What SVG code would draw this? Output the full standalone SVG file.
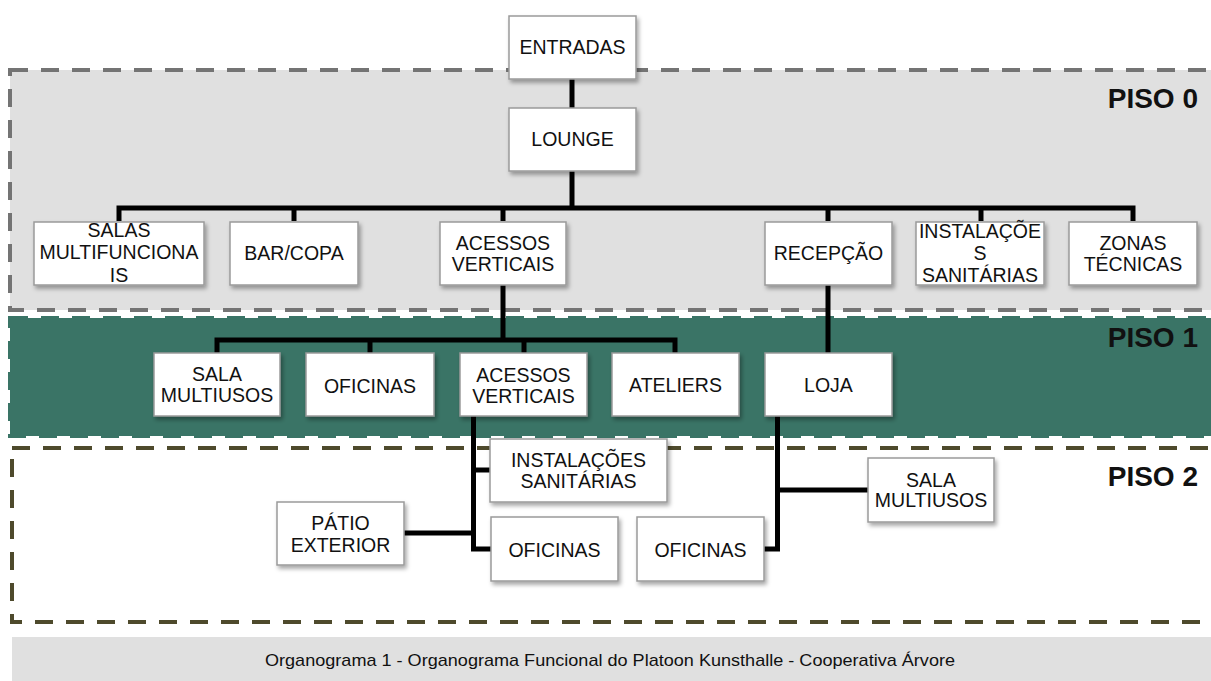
<svg xmlns="http://www.w3.org/2000/svg" width="1211" height="681" viewBox="0 0 1211 681">
<defs>
<filter id="sh" x="-10%" y="-10%" width="130%" height="140%">
<feDropShadow dx="2" dy="3" stdDeviation="2" flood-color="#000" flood-opacity="0.35"/>
</filter>
<style>
.box{fill:#fff;stroke:#9a9a9a;stroke-width:1.5;filter:url(#sh)}
.t{font-family:"Liberation Sans",Arial,sans-serif;font-size:19.5px;fill:#111;text-anchor:middle}
.lbl{font-family:"Liberation Sans",Arial,sans-serif;font-size:28px;font-weight:bold;fill:#111;text-anchor:end}
.c{fill:none;stroke:#000;stroke-width:5;stroke-linejoin:miter;stroke-linecap:butt}
.zone{stroke-width:4;stroke-dasharray:18 13}
</style>
</defs>
<rect width="1211" height="681" fill="#fff"/>
<g id="piso0">
<rect class="zone" x="10" y="70" width="1220" height="240" fill="#e0e0e0" stroke="#747474"/>
<text class="lbl" x="1198" y="108">PISO 0</text>
</g>
<g id="piso1">
<rect class="zone" x="10" y="318" width="1220" height="118" fill="#3a7466" stroke="#3a7466"/>
<text class="lbl" x="1198" y="347">PISO 1</text>
</g>
<g id="piso2">
<rect class="zone" x="12" y="448" width="1220" height="174" fill="none" stroke="#4e4a2c"/>
<text class="lbl" x="1198" y="486">PISO 2</text>
</g>
<g id="connectors">
<path class="c" d="M572 79V108"/>
<path class="c" d="M572 171V208"/>
<path class="c" d="M119 221V208H1133V221"/>
<path class="c" d="M294 208V221M503 208V221M828 208V221M981 208V221"/>
<path class="c" d="M503 285V340"/>
<path class="c" d="M217 353V340H675V353"/>
<path class="c" d="M370 340V353M524 340V353"/>
<path class="c" d="M828 285V353"/>
<path class="c" d="M473.5 416V549H491"/>
<path class="c" d="M473.5 470H490"/>
<path class="c" d="M403 533H473.5"/>
<path class="c" d="M777.5 416V549H764"/>
<path class="c" d="M777.5 490H868"/>
</g>
<g id="entradas"><rect class="box" x="509" y="16" width="127" height="63"/><text class="t" x="572.5" y="54">ENTRADAS</text></g>
<g id="lounge"><rect class="box" x="509" y="108" width="127" height="63"/><text class="t" x="572.5" y="146">LOUNGE</text></g>
<g id="salas-multifuncionais"><rect class="box" x="34" y="222" width="170" height="63"/><text class="t" x="119" y="237">SALAS</text><text class="t" x="119" y="259">MULTIFUNCIONA</text><text class="t" x="119" y="282">IS</text></g>
<g id="bar-copa"><rect class="box" x="230" y="222" width="128" height="63"/><text class="t" x="294" y="260">BAR/COPA</text></g>
<g id="acessos0"><rect class="box" x="440" y="222" width="126" height="63"/><text class="t" x="503" y="250">ACESSOS</text><text class="t" x="503" y="271">VERTICAIS</text></g>
<g id="recepcao"><rect class="box" x="765" y="222" width="127" height="63"/><text class="t" x="828.5" y="260">RECEPÇÃO</text></g>
<g id="instalacoes0"><rect class="box" x="916" y="222" width="128" height="63"/><text class="t" x="980" y="238">INSTALAÇÕE</text><text class="t" x="980" y="260">S</text><text class="t" x="980" y="282">SANITÁRIAS</text></g>
<g id="zonas-tecnicas"><rect class="box" x="1069" y="222" width="128" height="63"/><text class="t" x="1133" y="250">ZONAS</text><text class="t" x="1133" y="271">TÉCNICAS</text></g>
<g id="sala-multiusos1"><rect class="box" x="154" y="353" width="126" height="63"/><text class="t" x="217" y="381">SALA</text><text class="t" x="217" y="402">MULTIUSOS</text></g>
<g id="oficinas1"><rect class="box" x="306" y="353" width="128" height="63"/><text class="t" x="370" y="393">OFICINAS</text></g>
<g id="acessos1"><rect class="box" x="460" y="353" width="127" height="63"/><text class="t" x="523.5" y="382">ACESSOS</text><text class="t" x="523.5" y="403">VERTICAIS</text></g>
<g id="ateliers"><rect class="box" x="612" y="353" width="127" height="63"/><text class="t" x="675.5" y="392">ATELIERS</text></g>
<g id="loja"><rect class="box" x="765" y="353" width="127" height="63"/><text class="t" x="828.5" y="392">LOJA</text></g>
<g id="instalacoes2"><rect class="box" x="490" y="439" width="177" height="63"/><text class="t" x="578.5" y="467">INSTALAÇÕES</text><text class="t" x="578.5" y="488">SANITÁRIAS</text></g>
<g id="patio"><rect class="box" x="277" y="502" width="127" height="63"/><text class="t" x="340.5" y="530">PÁTIO</text><text class="t" x="340.5" y="552">EXTERIOR</text></g>
<g id="oficinas2a"><rect class="box" x="491" y="517" width="127" height="64"/><text class="t" x="554.5" y="557">OFICINAS</text></g>
<g id="oficinas2b"><rect class="box" x="637" y="517" width="127" height="64"/><text class="t" x="700.5" y="557">OFICINAS</text></g>
<g id="sala-multiusos2"><rect class="box" x="868" y="458" width="126" height="64"/><text class="t" x="931" y="487">SALA</text><text class="t" x="931" y="507">MULTIUSOS</text></g>
<g id="caption">
<rect x="12" y="637" width="1199" height="44" fill="#e0e0e0"/>
<text x="610" y="666" font-family="'Liberation Sans',Arial,sans-serif" font-size="17" fill="#111" text-anchor="middle" textLength="690" lengthAdjust="spacingAndGlyphs">Organograma 1 - Organograma Funcional do Platoon Kunsthalle - Cooperativa Árvore</text>
</g>
</svg>
